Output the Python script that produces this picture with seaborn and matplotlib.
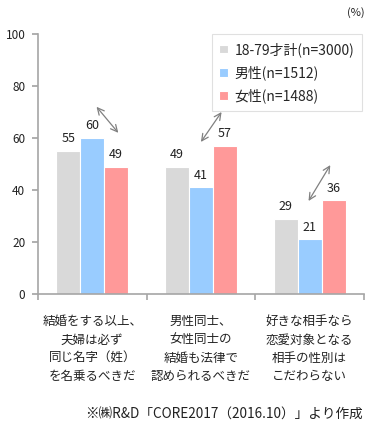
import matplotlib
matplotlib.use("Agg")
import matplotlib.pyplot as plt
import seaborn as sns
import pandas as pd

sns.set_theme(style="white")
plt.rcParams['font.family'] = ['Noto Sans CJK JP', 'DejaVu Sans']

categories = ["結婚をする以上、\n夫婦は必ず\n同じ名字（姓）\nを名乗るべきだ",
              "男性同士、\n女性同士の\n結婚も法律で\n認められるべきだ",
              "好きな相手なら\n恋愛対象となる\n相手の性別は\nこだわらない"]
series = ["18-79才計(n=3000)", "男性(n=1512)", "女性(n=1488)"]
total = [55, 49, 29]
male = [60, 41, 21]
female = [49, 57, 36]
colors = ["#d9d9d9", "#99ccff", "#ff9999"]

rows = []
for s, vals in zip(series, [total, male, female]):
    for c, v in zip(categories, vals):
        rows.append({"cat": c, "series": s, "value": v})
df = pd.DataFrame(rows)

fig = plt.figure(figsize=(3.86, 4.30), dpi=100)
ax = fig.add_axes([0.098, 0.316, 0.845, 0.605])
sns.barplot(data=df, x="cat", y="value", hue="series", palette=colors,
            width=0.66, edgecolor="white", linewidth=0.8, ax=ax, saturation=1)

for cont in ax.containers:
    ax.bar_label(cont, fmt="%d", padding=4, fontsize=9, color="#222222")

ax.set_ylim(0, 100)
ax.set_xlim(-0.5, 2.5)
ax.set_yticks([0, 20, 40, 60, 80, 100])
ax.set_xlabel("")
ax.set_ylabel("")
for sp in ["top", "right"]:
    ax.spines[sp].set_visible(False)
for sp in ["left", "bottom"]:
    ax.spines[sp].set_color("#a6a6a6")
    ax.spines[sp].set_linewidth(1.2)
ax.tick_params(axis="y", which="major", left=True, length=4, color="#a6a6a6",
               labelsize=8.5, labelcolor="#222222", pad=5)
ax.tick_params(axis="x", which="major", bottom=False, labelsize=9,
               labelcolor="#222222", pad=9)
for lbl in ax.get_xticklabels():
    lbl.set_linespacing(1.55)
ax.set_xticks([-0.5, 0.5, 1.5, 2.5], minor=True)
ax.tick_params(axis="x", which="minor", bottom=True, length=4, color="#a6a6a6", width=1.2)

arrows = [((0.04, 72), (0.24, 62)), ((1.19, 70), (1.0, 58.5)), ((2.19, 49.6), (1.99, 35.8))]
for a, b in arrows:
    ax.annotate("", xy=a, xytext=b,
                arrowprops=dict(arrowstyle="<->", color="#808080", lw=0.9,
                                shrinkA=0, shrinkB=0))

leg = ax.legend(loc="upper left", bbox_to_anchor=(0.512, 1.025), fontsize=10,
                frameon=True, fancybox=False, edgecolor="#d9d9d9",
                handlelength=0.6, handleheight=0.6, handletextpad=0.5,
                labelspacing=0.6, borderpad=0.55)
leg.get_frame().set_linewidth(0.8)

fig.text(0.945, 0.972, "(%)", fontsize=8, ha="right", va="center", color="#222222")
fig.text(0.94, 0.035, "※㈱R&D「CORE2017（2016.10）」より作成", fontsize=9.8,
         ha="right", va="center", color="#222222")

fig.savefig("out.png", dpi=100)
